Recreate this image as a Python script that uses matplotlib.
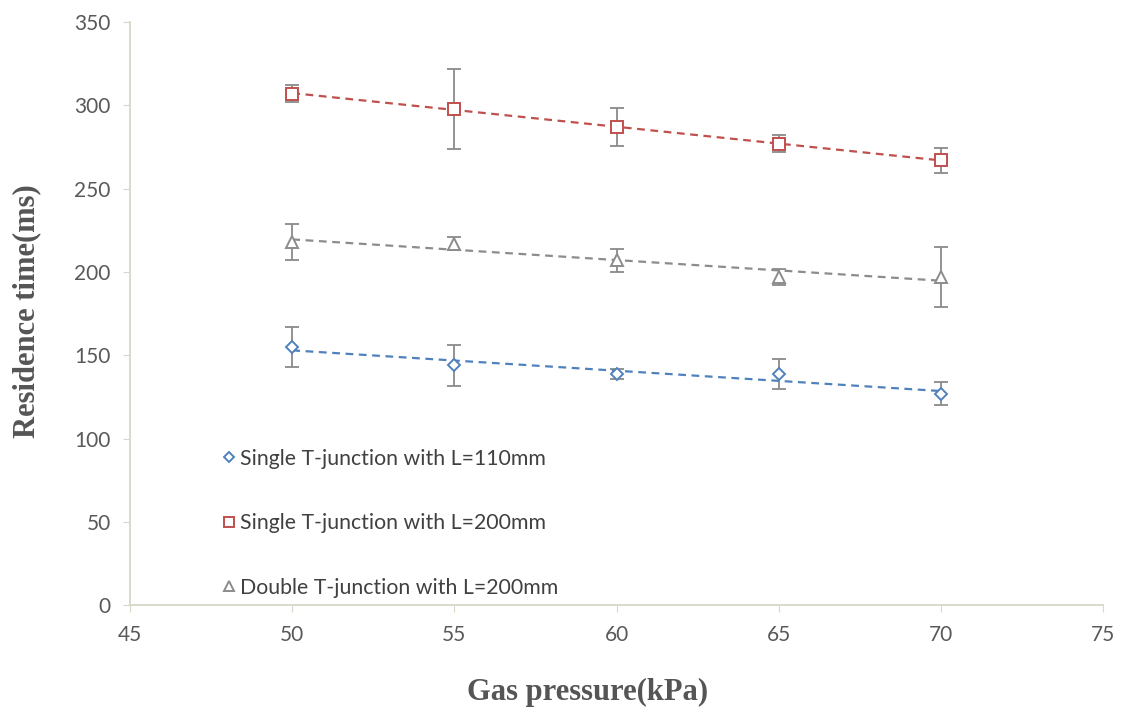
import numpy as np
import matplotlib.pyplot as plt

pressure = [50, 55, 60, 65, 70]

t_single_110 = [155, 144, 139, 139, 127]
e_single_110 = [12, 12.5, 3, 9, 7]

t_single_200 = [307, 298, 287, 277, 267]
e_single_200 = [5, 24, 11.5, 5, 7.5]

t_double_200 = [218, 217, 207, 197, 197]
e_double_200 = [11, 4, 7, 5, 18]

labels = ['Single T-junction with L=110mm',
          'Single T-junction with L=200mm',
          'Double T-junction with L=200mm']

#------------------------

fig = plt.figure(figsize=(11.22, 7.13), dpi=100)
ax = fig.add_axes([0.116, 0.151, 0.867, 0.818])

series = [
    (t_single_110, e_single_110, '#4f81bd', 'D', 6.5),
    (t_single_200, e_single_200, '#c0504d', 's', 8.5),
    (t_double_200, e_double_200, '#8c8c8c', '^', 8.5),
]

x = np.array(pressure)
for (y, err, col, mk, ms), lab in zip(series, labels):
    ax.errorbar(x, y, yerr=err, fmt='none', ecolor='#8a8a8a', elinewidth=1.3,
                capsize=5, capthick=1.3, zorder=2)
    # linear trendline
    k, b = np.polyfit(x, y, 1)
    ax.plot(x, k * x + b, linestyle=(0, (3.5, 2.5)), color=col, linewidth=1.6, zorder=3)
    ax.plot(x, y, linestyle='none', marker=mk, markersize=ms, markerfacecolor='white',
            markeredgecolor=col, markeredgewidth=1.4, label=lab, zorder=4)

ax.set_xlim(45, 75)
ax.set_ylim(0, 350)
ax.set_xticks(range(45, 80, 5))
ax.set_yticks(range(0, 400, 50))

for s in ['top', 'right']:
    ax.spines[s].set_visible(False)
for s in ['left', 'bottom']:
    ax.spines[s].set_color('#d6d8c8')
    ax.spines[s].set_linewidth(1.3)

ax.tick_params(axis='both', colors='#d6d8c8', labelcolor='#595959', labelsize=15, length=5)
ax.tick_params(axis='y', pad=9)
ax.tick_params(axis='x', pad=9)
for t in ax.get_xticklabels() + ax.get_yticklabels():
    t.set_family('Lato')

ax.set_xlabel('Gas pressure(kPa)', family='Liberation Serif', fontweight='bold',
              fontsize=22, color='#555555')
ax.set_ylabel('Residence time(ms)', family='Liberation Serif', fontweight='bold',
              fontsize=22, color='#555555')
ax.xaxis.set_label_coords(0.47, -0.125)
ax.yaxis.set_label_coords(-0.091, 0.505)

leg = ax.legend(loc='lower left', bbox_to_anchor=(0.076, -0.02), frameon=False,
                prop={'family': 'Lato', 'size': 15.3}, labelspacing=2.1,
                handlelength=0.5, handletextpad=0.3, markerscale=0.8)
for t in leg.get_texts():
    t.set_color('#404040')

plt.savefig('out.png', dpi=100)
